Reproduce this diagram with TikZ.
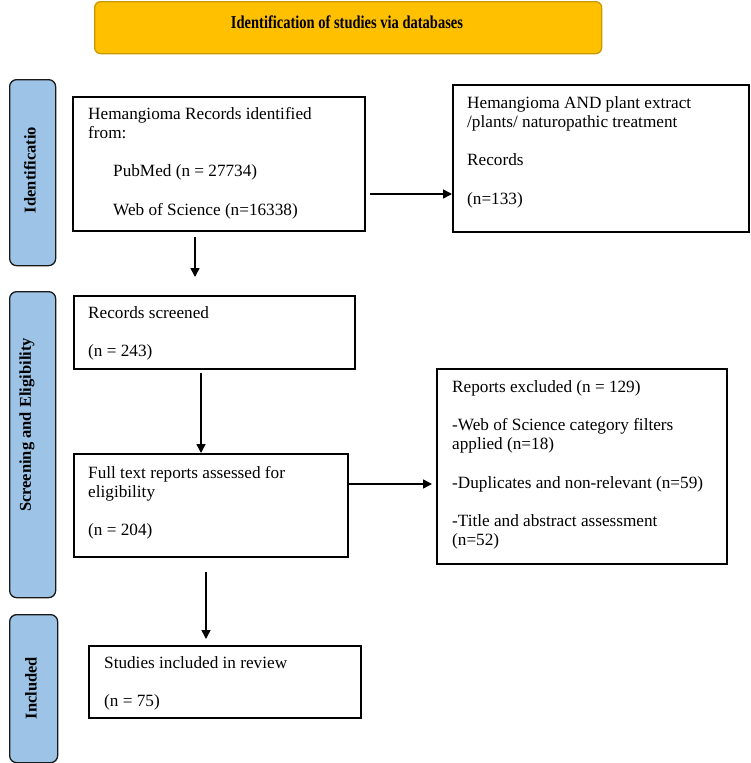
\documentclass[tikz,border=0pt]{standalone}
\usepackage{fontspec}
\setmainfont{Liberation Serif}
\usetikzlibrary{arrows.meta,calc}
\definecolor{gold}{HTML}{FFC000}
\definecolor{goldedge}{HTML}{C89A00}
\definecolor{sideblue}{HTML}{9DC3E6}
\tikzset{
  box/.style={draw=black,line width=1.5pt,fill=white,inner sep=0pt,anchor=north west},
  side/.style={draw=black!90,line width=1.3pt,fill=sideblue,rounded corners=7pt,inner sep=0pt,anchor=north west},
  head/.style={draw=goldedge,line width=1.3pt,fill=gold,rounded corners=6pt,inner sep=0pt,anchor=north west},
  txt/.style={anchor=north west,inner sep=0pt,align=left,font=\fontsize{17.2}{19.2}\selectfont},
  sidetxt/.style={rotate=90,inner sep=0pt,font=\fontsize{16.5}{18}\selectfont\bfseries},
  arr/.style={line width=1.5pt,-{Triangle[length=9pt,width=9pt]}}
}
\begin{document}
\begin{tikzpicture}[x=1pt,y=-1pt]
\useasboundingbox (0,0) rectangle (750,763);
% header
\node[head,minimum width=507pt,minimum height=52pt] (H) at (94,1) {};
\node[inner sep=0pt,font=\fontsize{14.5}{18}\selectfont\bfseries] (Ht) at (347,22) {\scalebox{1}[1.25]{Identification of studies via databases}};
% side labels
\node[side,minimum width=46pt,minimum height=186pt] (S1) at (9,79) {};
\node[sidetxt] (S1t) at (30,170) {Identificatio};
\node[side,minimum width=46pt,minimum height=306pt] (S2) at (9,291) {};
\node[sidetxt] (S2t) at (27,425) {Screening and Eligibility};
\node[side,minimum width=48pt,minimum height=148pt] (S3) at (9,614) {};
\node[sidetxt] (S3t) at (31,688) {Included};
% boxes
\node[box,minimum width=292pt,minimum height=134pt] (A) at (72,96) {};
\node[txt] (At) at (88,107) {Hemangioma Records identified\\from:\\[\baselineskip]\hspace*{25pt}PubMed (n = 27734)\\[\baselineskip]\hspace*{25pt}Web of Science (n=16338)};
\node[box,minimum width=296pt,minimum height=147pt] (B) at (452,84) {};
\node[txt] (Bt) at (467,96) {Hemangioma AND plant extract\\/plants/ naturopathic treatment\\[\baselineskip]Records\\[\baselineskip](n=133)};
\node[box,minimum width=281pt,minimum height=73pt] (C) at (73,295) {};
\node[txt] (Ct) at (88,306) {Records screened\\[\baselineskip](n = 243)};
\node[box,minimum width=274pt,minimum height=103pt] (D) at (73,453) {};
\node[txt] (Dt) at (88,466) {Full text reports assessed for\\eligibility\\[\baselineskip](n = 204)};
\node[box,minimum width=290pt,minimum height=195pt] (E) at (436,368) {};
\node[txt] (Et) at (452,380) {Reports excluded (n = 129)\\[\baselineskip]-Web of Science category filters\\applied (n=18)\\[\baselineskip]-Duplicates and non-relevant (n=59)\\[\baselineskip]-Title and abstract assessment\\(n=52)};
\node[box,minimum width=272pt,minimum height=72pt] (F) at (88,645) {};
\node[txt] (Ft) at (104,656) {Studies included in review\\[\baselineskip](n = 75)};
% connectors
\coordinate (a1) at (370,194);
\draw[arr] (a1) -- (a1 -| B.west);
\coordinate (a2) at (195,237);
\coordinate (a2e) at (195,277);
\draw[arr] (a2) -- (a2e);
\coordinate (c1) at (201,373);
\draw[arr] (c1) -- (c1 |- D.north);
\coordinate (d1) at (349,484);
\draw[arr,shorten >=4pt] (d1) -- (d1 -| E.west);
\coordinate (d2) at (206,572);
\draw[arr,shorten >=6pt] (d2) -- (d2 |- F.north);
\end{tikzpicture}
\end{document}
